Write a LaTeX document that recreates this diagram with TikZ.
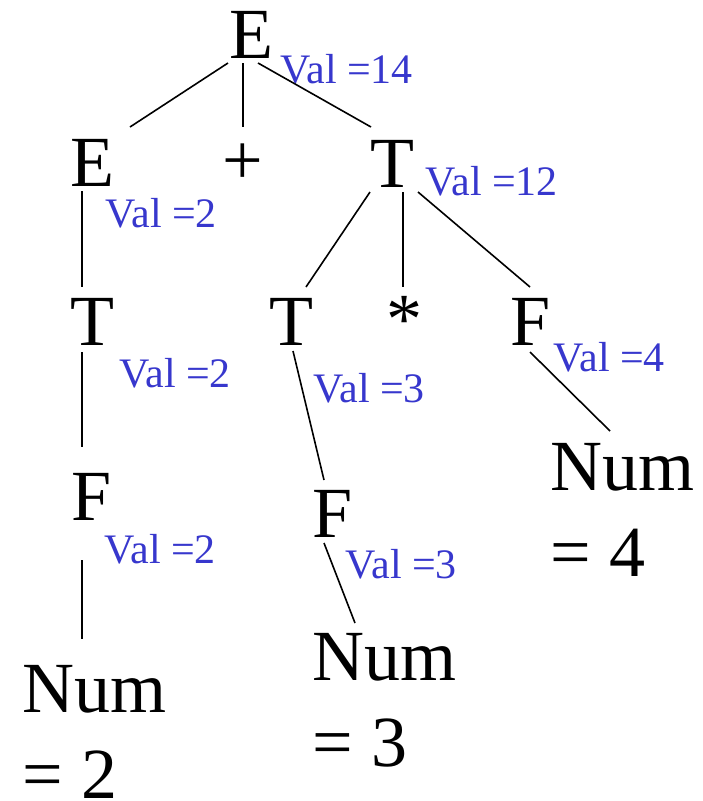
\documentclass[tikz,border=0pt]{standalone}
\usepackage{fontspec}
\setmainfont{Liberation Serif}
\definecolor{valblue}{RGB}{55,55,205}
\tikzset{
  sym/.style={font=\fontsize{72}{86}\selectfont, inner sep=0pt, anchor=base},
  numval/.style={font=\fontsize{72}{86}\selectfont, inner sep=0pt, anchor=north west, align=left},
  attr/.style={text=valblue, font=\fontsize{42}{48}\selectfont, inner sep=0pt, anchor=base west}
}

\begin{document}
\begin{tikzpicture}[x=1pt, y=-1pt, line width=1.6pt]
\useasboundingbox (0,0) rectangle (702,801);

% Symbols of the tree
\node[sym] (e0) at (251,58) {E};
\node[sym] (e1) at (92,186) {E};
\node[sym] (plus) at (243,184) {+};
\node[sym] (t1) at (392,187) {T};
\node[sym] (t2) at (92,345) {T};
\node[sym] (t3) at (291,345) {T};
\node[sym] (star) at (404,343) {*};
\node[sym] (f1) at (531,345) {F};
\node[sym] (f2) at (92,520) {F};
\node[sym] (f3) at (333,537) {F};
\node[numval] (num4) at (550,443) {Num\\= 4};
\node[numval] (num2) at (22,665) {Num\\= 2};
\node[numval] (num3) at (312,633) {Num\\= 3};

% Attribute values
\node[attr] (ve0) at (280,83) {Val =14};
\node[attr] (ve1) at (105,227) {Val =2};
\node[attr] (vt1) at (425,195) {Val =12};
\node[attr] (vt2) at (119,387) {Val =2};
\node[attr] (vt3) at (313,402) {Val =3};
\node[attr] (vf1) at (553,371) {Val =4};
\node[attr] (vf2) at (104,563) {Val =2};
\node[attr] (vf3) at (345,578) {Val =3};

% Edges
\draw ([shift={(-23,5)}]e0.base) -- ([shift={(38,-59)}]e1.base);
\draw ([shift={(-8,5)}]e0.base) -- ([shift={(0,-57)}]plus.base);
\draw ([shift={(7,5)}]e0.base) -- ([shift={(-21,-60)}]t1.base);
\draw ([shift={(-10,5)}]e1.base) -- ([shift={(-10,-58)}]t2.base);
\draw ([shift={(-22,5)}]t1.base) -- ([shift={(15,-58)}]t3.base);
\draw ([shift={(11,5)}]t1.base) -- ([shift={(-1,-56)}]star.base);
\draw ([shift={(26,5)}]t1.base) -- ([shift={(-1,-58)}]f1.base);
\draw ([shift={(-10,7)}]t2.base) -- ([shift={(-10,-73)}]f2.base);
\draw ([shift={(2,6)}]t3.base) -- ([shift={(-9,-57)}]f3.base);
\draw ([shift={(-1,7)}]f1.base) -- ([shift={(60,-12)}]num4.north west);
\draw ([shift={(-10,40)}]f2.base) -- ([shift={(60,-26)}]num2.north west);
\draw ([shift={(-9,6)}]f3.base) -- ([shift={(43,-10)}]num3.north west);
\end{tikzpicture}
\end{document}
